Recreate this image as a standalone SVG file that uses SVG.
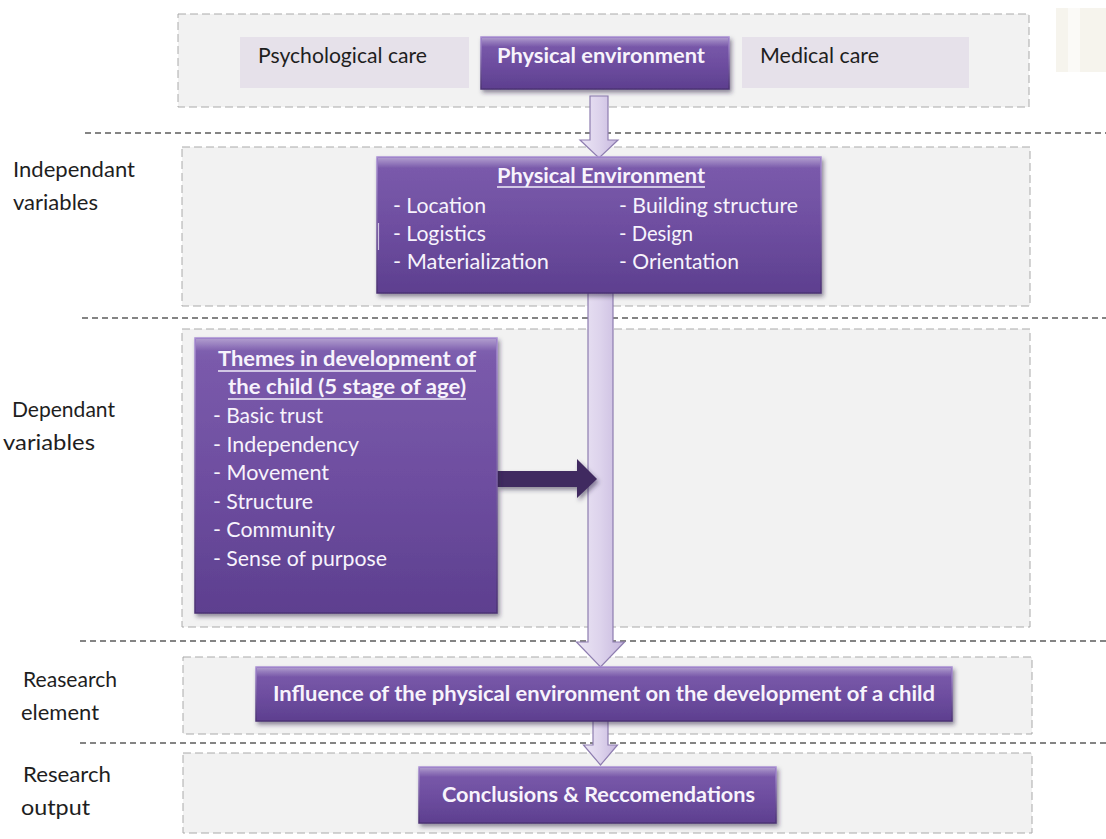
<svg xmlns="http://www.w3.org/2000/svg" width="1106" height="839" viewBox="0 0 1106 839">
  <defs>
    <style>
      .zone { fill: #f2f2f2; stroke: #aaaaaa; stroke-width: 1; stroke-dasharray: 8 4; }
      .sep { stroke: #5c5c5c; stroke-width: 1.3; stroke-dasharray: 6 4; fill: none; }
      .lbl { font-family: Lato, "Liberation Sans", sans-serif; font-size: 21px; fill: #1e1e1e; }
      .soft { fill: #e6e1ea; }
      .box { fill: url(#purple); stroke: url(#edge); stroke-width: 1.5; filter: url(#shadow); }
      .hl { fill: url(#shine); }
      .wt { font-family: Lato, "Liberation Sans", sans-serif; font-size: 21px; fill: #f7f3fc; }
      .b { font-weight: 700; }
      .ul { stroke: #f1ecf8; stroke-width: 1.4; }
      .flow { fill: url(#pale); stroke: #8e7db0; stroke-width: 1.2; }
      .push { fill: #412a61; filter: url(#shadow); }
    </style>
    <linearGradient id="purple" x1="0" y1="0" x2="0" y2="1">
      <stop offset="0" stop-color="#8466b3"/>
      <stop offset="0.08" stop-color="#7a5aab"/>
      <stop offset="0.55" stop-color="#6d4d9f"/>
      <stop offset="1" stop-color="#5d3f8f"/>
    </linearGradient>
    <linearGradient id="edge" x1="0" y1="0" x2="0" y2="1">
      <stop offset="0" stop-color="#a88ed2"/>
      <stop offset="1" stop-color="#4b3274"/>
    </linearGradient>
    <linearGradient id="shine" x1="0" y1="0" x2="0" y2="1">
      <stop offset="0" stop-color="#ffffff" stop-opacity="0.35"/>
      <stop offset="1" stop-color="#ffffff" stop-opacity="0"/>
    </linearGradient>
    <linearGradient id="pale" x1="0" y1="0" x2="1" y2="0">
      <stop offset="0" stop-color="#ece6f5"/>
      <stop offset="0.5" stop-color="#ddd3ec"/>
      <stop offset="1" stop-color="#c6b7de"/>
    </linearGradient>
    <filter id="shadow" x="-10%" y="-10%" width="125%" height="135%">
      <feDropShadow dx="2" dy="3" stdDeviation="2" flood-color="#2a1a40" flood-opacity="0.5"/>
    </filter>
  </defs>

  <rect width="1106" height="839" fill="#ffffff"/>

  <!-- faint marks in the top right corner -->
  <rect x="1056" y="8" width="50" height="64" fill="#f6f4ed"/>
  <rect x="1068" y="8" width="12" height="64" fill="#fbfaf7"/>

  <!-- section bands -->
  <g id="bands">
    <rect class="zone" x="178" y="14" width="851" height="93"/>
    <rect class="zone" x="182" y="147" width="848" height="159"/>
    <rect class="zone" x="182" y="329" width="848" height="298"/>
    <rect class="zone" x="183" y="657" width="849" height="77"/>
    <rect class="zone" x="183" y="753" width="849" height="80"/>
  </g>

  <!-- row separators -->
  <g id="separators">
    <line class="sep" x1="85" y1="133" x2="1106" y2="133"/>
    <line class="sep" x1="82" y1="318" x2="1106" y2="318"/>
    <line class="sep" x1="80" y1="641" x2="1106" y2="641"/>
    <line class="sep" x1="80" y1="743" x2="1106" y2="743"/>
  </g>

  <!-- row labels -->
  <g id="row-labels">
    <text class="lbl" x="13" y="177" textLength="122" lengthAdjust="spacingAndGlyphs">Independant</text>
    <text class="lbl" x="13" y="210" textLength="85" lengthAdjust="spacingAndGlyphs">variables</text>
    <text class="lbl" x="12" y="417" textLength="103" lengthAdjust="spacingAndGlyphs">Dependant</text>
    <text class="lbl" x="3" y="450" textLength="92" lengthAdjust="spacingAndGlyphs">variables</text>
    <text class="lbl" x="23" y="687" textLength="94" lengthAdjust="spacingAndGlyphs">Reasearch</text>
    <text class="lbl" x="21" y="720" textLength="78" lengthAdjust="spacingAndGlyphs">element</text>
    <text class="lbl" x="23" y="782" textLength="88" lengthAdjust="spacingAndGlyphs">Research</text>
    <text class="lbl" x="21" y="815" textLength="69" lengthAdjust="spacingAndGlyphs">output</text>
  </g>

  <!-- connectors -->
  <g id="connectors">
    <path class="flow" d="M590,96 H608 V140 H618 L599,158 L580,140 H590 Z"/>
    <path class="flow" d="M588,292 H613 V642 H624.5 L600.5,667 L576.5,642 H588 Z"/>
    <path class="flow" d="M593,720 H608 V745 H617.5 L600.5,765 L583.5,745 H593 Z"/>
    <path class="push" d="M497,471 H577 V459 L597,479 L577,498 V487 H497 Z"/>
  </g>

  <g id="psychological-care">
    <rect class="soft" x="240" y="37" width="229" height="51"/>
    <text class="lbl" x="258" y="63" textLength="169" lengthAdjust="spacingAndGlyphs">Psychological care</text>
  </g>

  <g id="physical-environment">
    <rect class="box" x="481" y="37" width="248" height="52"/>
    <rect class="hl" x="482" y="38" width="246" height="9"/>
    <text class="wt b" x="497" y="63" textLength="208" lengthAdjust="spacingAndGlyphs">Physical environment</text>
  </g>

  <g id="medical-care">
    <rect class="soft" x="742" y="37" width="227" height="51"/>
    <text class="lbl" x="760" y="63" textLength="119" lengthAdjust="spacingAndGlyphs">Medical care</text>
  </g>

  <g id="physical-environment-factors">
    <rect class="box" x="377" y="157" width="444" height="136"/>
    <rect class="hl" x="378" y="158" width="442" height="10"/>
    <line x1="378.5" y1="223" x2="378.5" y2="250" stroke="#cfc4e2" stroke-width="1.2"/>
    <text class="wt b" x="497" y="183" textLength="208" lengthAdjust="spacingAndGlyphs">Physical Environment</text>
    <line class="ul" x1="497" y1="187" x2="705" y2="187"/>
    <text class="wt" x="393" y="213" textLength="93" lengthAdjust="spacingAndGlyphs">- Location</text>
    <text class="wt" x="393" y="241" textLength="93" lengthAdjust="spacingAndGlyphs">- Logistics</text>
    <text class="wt" x="393" y="269" textLength="156" lengthAdjust="spacingAndGlyphs">- Materialization</text>
    <text class="wt" x="619" y="213" textLength="179" lengthAdjust="spacingAndGlyphs">- Building structure</text>
    <text class="wt" x="619" y="241" textLength="74" lengthAdjust="spacingAndGlyphs">- Design</text>
    <text class="wt" x="619" y="269" textLength="120" lengthAdjust="spacingAndGlyphs">- Orientation</text>
  </g>

  <g id="development-themes">
    <rect class="box" x="195" y="338" width="302" height="275"/>
    <rect class="hl" x="196" y="339" width="300" height="12"/>
    <text class="wt b" x="218" y="366" textLength="258" lengthAdjust="spacingAndGlyphs">Themes in development of</text>
    <line class="ul" x1="218" y1="371" x2="476" y2="371"/>
    <text class="wt b" x="228" y="394" textLength="238" lengthAdjust="spacingAndGlyphs">the child (5 stage of age)</text>
    <line class="ul" x1="228" y1="399" x2="466" y2="399"/>
    <text class="wt" x="213" y="423" textLength="110" lengthAdjust="spacingAndGlyphs">- Basic trust</text>
    <text class="wt" x="213" y="451.5" textLength="146" lengthAdjust="spacingAndGlyphs">- Independency</text>
    <text class="wt" x="213" y="480" textLength="116" lengthAdjust="spacingAndGlyphs">- Movement</text>
    <text class="wt" x="213" y="508.5" textLength="100" lengthAdjust="spacingAndGlyphs">- Structure</text>
    <text class="wt" x="213" y="537" textLength="122" lengthAdjust="spacingAndGlyphs">- Community</text>
    <text class="wt" x="213" y="565.5" textLength="174" lengthAdjust="spacingAndGlyphs">- Sense of purpose</text>
  </g>

  <g id="research-element">
    <rect class="box" x="256" y="667" width="696" height="54"/>
    <rect class="hl" x="257" y="668" width="694" height="9"/>
    <text class="wt b" x="273" y="701" textLength="662" lengthAdjust="spacingAndGlyphs">Influence of the physical environment on the development of a child</text>
  </g>

  <g id="research-output">
    <rect class="box" x="419" y="767" width="357" height="56"/>
    <rect class="hl" x="420" y="768" width="355" height="9"/>
    <text class="wt b" x="442" y="802" textLength="313" lengthAdjust="spacingAndGlyphs">Conclusions &amp; Reccomendations</text>
  </g>
</svg>
